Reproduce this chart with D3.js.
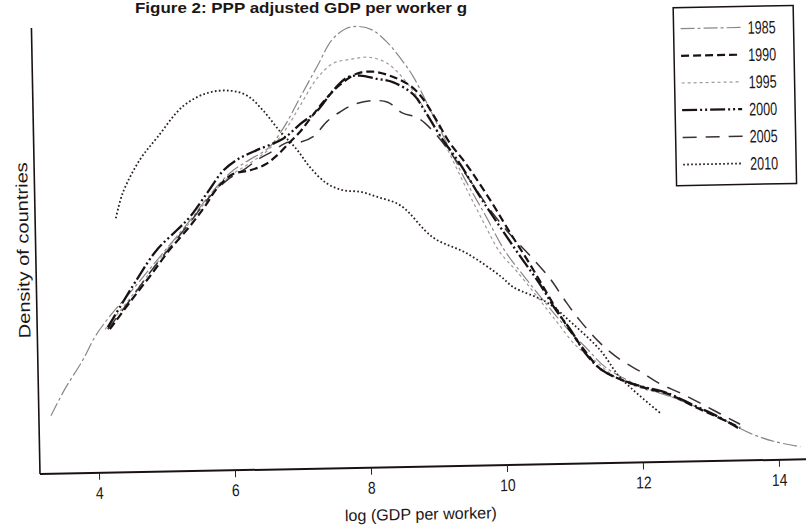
<!DOCTYPE html>
<html><head><meta charset="utf-8">
<script src="https://cdn.jsdelivr.net/npm/d3@7"></script>
<style>
html,body{margin:0;padding:0;background:#fff;}
svg{display:block;}
text{font-family:"Liberation Sans","Arial",sans-serif;fill:#1d1616;}
</style></head><body>
<svg id="chart" width="806" height="527"></svg>
<script>
// ---------- data ----------
const years = ["1985", "1990", "1995", "2000", "2005", "2010"];
const xTickValues = [4, 6, 8, 10, 12, 14];
const titleText = "Figure 2: PPP adjusted GDP per worker g";
const xTitle = "log (GDP per worker)";
const yTitle = "Density of countries";

// [log GDP per worker, density]
const d1985 = [[3.31,0.032],[3.53,0.047],[3.79,0.062],[3.98,0.075],[4.20,0.086],[4.51,0.099],[4.81,0.112],[5.11,0.125],[5.41,0.138],[5.71,0.152],[6.02,0.164],[6.31,0.171],[6.58,0.177],[6.81,0.188],[7.07,0.205],[7.33,0.222],[7.55,0.236],[7.76,0.242],[7.95,0.243],[8.14,0.241],[8.36,0.234],[8.55,0.225],[8.73,0.215],[8.94,0.199],[9.18,0.180],[9.46,0.158],[9.75,0.138],[10.03,0.118],[10.32,0.103],[10.61,0.089],[10.89,0.076],[11.19,0.064],[11.47,0.053],[11.77,0.046],[12.12,0.040],[12.49,0.035],[12.86,0.029],[13.23,0.022],[13.58,0.015],[13.95,0.010],[14.32,0.007]];
const d1990 = [[4.20,0.079],[4.51,0.094],[4.81,0.108],[5.10,0.122],[5.41,0.135],[5.64,0.146],[5.83,0.156],[6.05,0.163],[6.31,0.165],[6.53,0.168],[6.71,0.173],[6.90,0.180],[7.06,0.186],[7.23,0.194],[7.43,0.203],[7.65,0.211],[7.90,0.217],[8.14,0.218],[8.43,0.215],[8.68,0.210],[8.86,0.203],[9.04,0.192],[9.25,0.178],[9.47,0.167],[9.83,0.146],[10.11,0.128],[10.40,0.110],[10.73,0.088],[10.92,0.076],[11.16,0.063],[11.40,0.052],[11.69,0.046],[12.05,0.041],[12.42,0.037],[12.78,0.030],[13.12,0.024],[13.44,0.018]];
const d1995 = [[4.13,0.079],[4.51,0.096],[4.81,0.110],[5.10,0.124],[5.41,0.137],[5.71,0.151],[6.01,0.162],[6.31,0.169],[6.58,0.176],[6.84,0.187],[7.06,0.200],[7.32,0.215],[7.56,0.223],[7.81,0.225],[8.08,0.226],[8.33,0.223],[8.54,0.216],[8.76,0.205],[8.97,0.191],[9.18,0.177],[9.49,0.152],[9.75,0.132],[9.96,0.117],[10.19,0.107],[10.48,0.093],[10.76,0.079],[11.05,0.065],[11.34,0.056],[11.63,0.047],[11.99,0.041],[12.36,0.037],[12.73,0.031],[13.09,0.025],[13.44,0.018]];
const d2000 = [[4.17,0.080],[4.61,0.106],[4.91,0.122],[5.22,0.133],[5.41,0.140],[5.67,0.153],[5.91,0.165],[6.12,0.171],[6.41,0.176],[6.80,0.182],[7.06,0.190],[7.31,0.197],[7.55,0.208],[7.76,0.215],[7.95,0.216],[8.20,0.214],[8.43,0.212],[8.73,0.205],[8.89,0.196],[9.11,0.182],[9.40,0.166],[9.68,0.148],[9.97,0.131],[10.25,0.115],[10.54,0.099],[10.76,0.085],[10.97,0.074],[11.18,0.061],[11.40,0.052],[11.69,0.046],[11.99,0.042],[12.37,0.038],[12.76,0.031],[13.09,0.025],[13.41,0.018]];
const d2005 = [[4.17,0.079],[4.51,0.095],[4.81,0.110],[5.10,0.123],[5.41,0.137],[5.71,0.151],[6.01,0.161],[6.24,0.166],[6.43,0.171],[6.63,0.175],[6.87,0.180],[7.05,0.180],[7.25,0.183],[7.45,0.191],[7.64,0.196],[7.84,0.200],[8.10,0.202],[8.35,0.201],[8.56,0.195],[8.79,0.192],[9.00,0.185],[9.25,0.173],[9.54,0.157],[9.82,0.141],[10.11,0.127],[10.40,0.115],[10.69,0.102],[10.90,0.090],[11.11,0.079],[11.41,0.066],[11.69,0.057],[11.99,0.050],[12.28,0.043],[12.56,0.038],[12.86,0.032],[13.15,0.026],[13.44,0.020]];
const d2010 = [[4.32,0.140],[4.43,0.154],[4.69,0.172],[4.95,0.184],[5.34,0.201],[5.70,0.208],[6.04,0.209],[6.29,0.206],[6.51,0.198],[6.76,0.186],[7.00,0.176],[7.19,0.166],[7.43,0.157],[7.67,0.153],[7.92,0.152],[8.17,0.149],[8.51,0.144],[8.98,0.126],[9.47,0.117],[9.96,0.104],[10.14,0.098],[10.64,0.089],[11.01,0.077],[11.41,0.062],[11.69,0.047],[12.27,0.027]];

const seriesData = [d1985, d1990, d1995, d2000, d2005, d2010];

// ---------- styles ----------
const styles = {
  "1985": {stroke:"#8c8686", width:1.2, dash:"14,3,3,3"},
  "1990": {stroke:"#1a1212", width:2.2, dash:"8,4"},
  "1995": {stroke:"#a09a9a", width:1.2, dash:"3,3"},
  "2000": {stroke:"#1a1212", width:2.3, dash:"15,3,2,3,2,3"},
  "2005": {stroke:"#3a3232", width:1.5, dash:"14,9"},
  "2010": {stroke:"#2e2020", width:1.8, dash:"1.7,2.3"}
};
const drawOrder = ["1985","1995","2010","2005","1990","2000"];

// ---------- layout ----------
const W = 806, H = 527;
const axisY = 474, axisLeft = 40, axisRight = 820, axisTop = 28;
const svg = d3.select("#chart");
svg.append("rect").attr("width", W).attr("height", H).attr("fill", "#fff");

// title (not rotated)
svg.append("text")
  .attr("x", 135).attr("y", 13)
  .attr("font-size", 15.5)
  .attr("font-weight", "bold")
  .attr("textLength", 332)
  .attr("lengthAdjust", "spacingAndGlyphs")
  .text(titleText);

const g = svg.append("g").attr("transform", `rotate(-1.1,${axisLeft},${axisY})`);

const x = d3.scaleLinear().domain([4, 14]).range([99, 779]);
const y = d3.scaleLinear().domain([0, 0.25]).range([axisY, 20]);

// axes lines
g.append("line")
  .attr("x1", axisLeft).attr("x2", axisRight)
  .attr("y1", axisY).attr("y2", axisY)
  .attr("stroke", "#1a1212").attr("stroke-width", 2);
g.append("line")
  .attr("x1", axisLeft).attr("x2", axisLeft)
  .attr("y1", axisY).attr("y2", axisTop)
  .attr("stroke", "#1a1212").attr("stroke-width", 1.6);

// x axis ticks via d3 axis
const xAxis = d3.axisBottom(x).tickValues(xTickValues).tickSize(7).tickPadding(7).tickFormat(d3.format("d"));
const ax = g.append("g").attr("transform", `translate(0,${axisY})`).call(xAxis);
ax.select(".domain").remove();
ax.selectAll(".tick line").attr("stroke", "#2a2020").attr("stroke-width", 1);
ax.selectAll(".tick text")
  .attr("font-size", 17)
  .attr("font-family", "'Liberation Sans',Arial,sans-serif")
  .attr("fill", "#1d1616")
  .attr("transform", "scale(0.82,1)");

// axis titles
g.append("text")
  .attr("x", 420).attr("y", 527)
  .attr("text-anchor", "middle")
  .attr("font-size", 16)
  .attr("textLength", 152)
  .attr("lengthAdjust", "spacingAndGlyphs")
  .text(xTitle);
g.append("text")
  .attr("transform", `translate(33,250) rotate(-90)`)
  .attr("text-anchor", "middle")
  .attr("font-size", 16.5)
  .attr("textLength", 176)
  .attr("lengthAdjust", "spacingAndGlyphs")
  .text(yTitle);

// curves
const line = d3.line()
  .x(d => x(d[0]))
  .y(d => y(d[1]))
  .curve(d3.curveCatmullRom.alpha(0.5));

drawOrder.forEach(yr => {
  const i = years.indexOf(yr);
  const s = styles[yr];
  g.append("path")
    .datum(seriesData[i])
    .attr("d", line)
    .attr("fill", "none")
    .attr("stroke", s.stroke)
    .attr("stroke-width", s.width)
    .attr("stroke-dasharray", s.dash)
    .attr("stroke-linejoin", "round");
});

// legend
const lg = g.append("g").attr("transform", "translate(682,20)");
lg.append("rect")
  .attr("width", 120).attr("height", 178)
  .attr("fill", "#fff")
  .attr("stroke", "#1a1212").attr("stroke-width", 1.5);
years.forEach((yr, i) => {
  const s = styles[yr];
  const ry = 21 + i * 27.2;
  lg.append("line")
    .attr("x1", 7).attr("x2", 67)
    .attr("y1", ry).attr("y2", ry)
    .attr("stroke", s.stroke)
    .attr("stroke-width", s.width)
    .attr("stroke-dasharray", s.dash);
  lg.append("text")
    .attr("x", 74).attr("y", ry + 6.5)
    .attr("font-size", 18)
    .attr("textLength", 28)
    .attr("lengthAdjust", "spacingAndGlyphs")
    .text(yr);
});
</script>
</body></html>
